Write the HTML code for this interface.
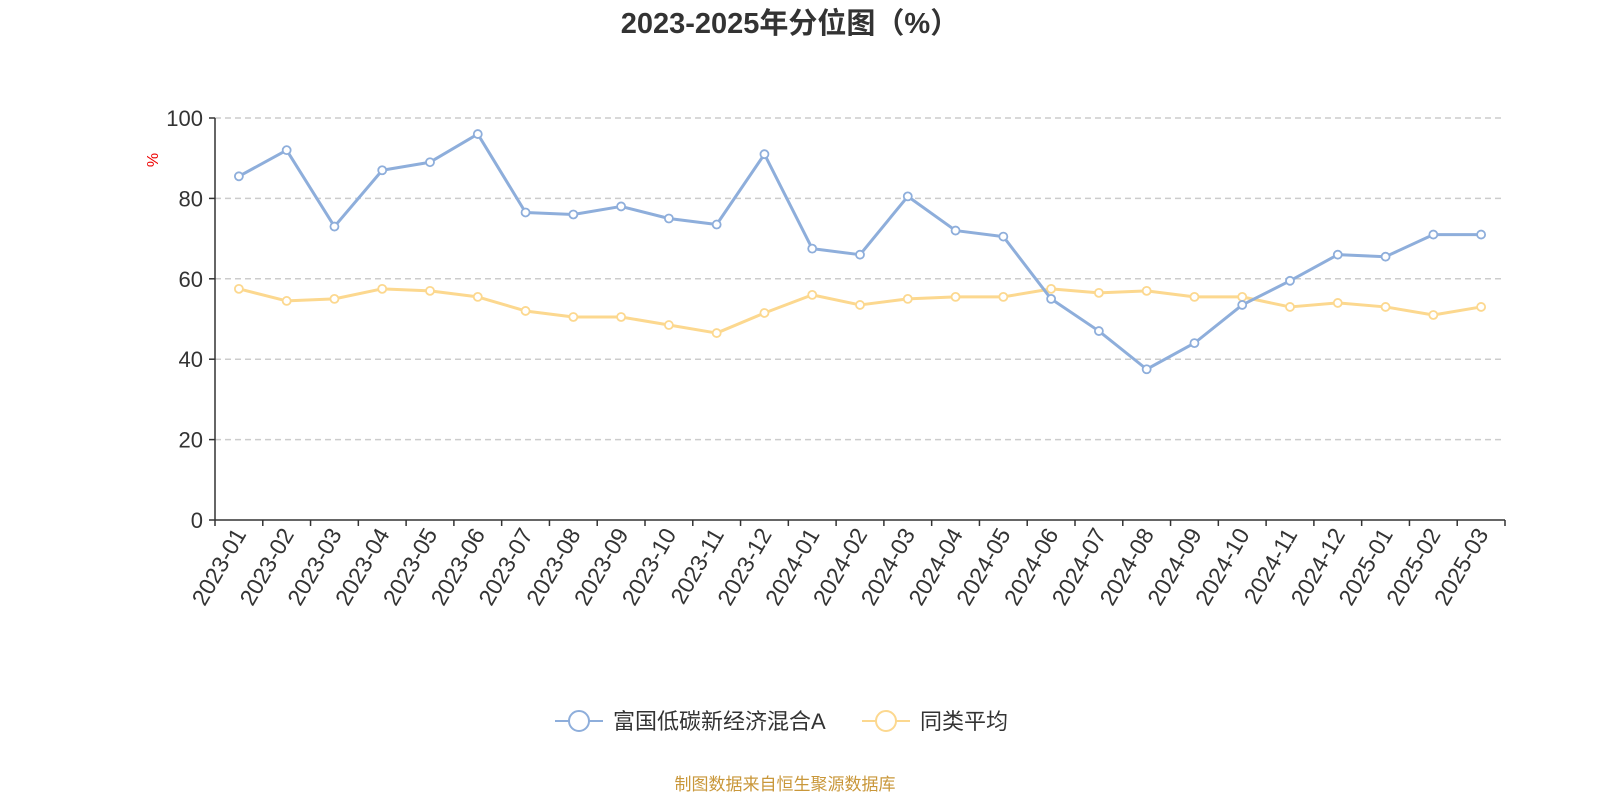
<!DOCTYPE html>
<html><head><meta charset="utf-8"><style>
body{margin:0;background:#fff;width:1600px;height:800px;overflow:hidden;font-family:"Liberation Sans","Noto Sans CJK SC",sans-serif}
</style></head><body>
<svg id="c" width="1600" height="800" xmlns="http://www.w3.org/2000/svg">
<text x="790" y="33" text-anchor="middle" font-size="29" font-weight="bold" fill="#333" font-family="Liberation Sans,Noto Sans CJK SC,sans-serif">2023-2025年分位图（%）</text>
<text x="0" y="0" transform="translate(158,160) rotate(-90)" text-anchor="middle" font-size="16" fill="#e00">%</text>
<g id="grid"></g><g id="axes"></g><g id="series"></g>
<g>
<g>
<line x1="555" y1="721" x2="603" y2="721" stroke="#8eaedb" stroke-width="2"/>
<circle cx="579" cy="721" r="10" fill="#fff" stroke="#8eaedb" stroke-width="2"/>
<text x="613" y="729" font-size="22" fill="#333" font-family="Liberation Sans,Noto Sans CJK SC,sans-serif">富国低碳新经济混合A</text></g>
<g>
<line x1="862" y1="721" x2="910" y2="721" stroke="#fcd88f" stroke-width="2"/>
<circle cx="886" cy="721" r="10" fill="#fff" stroke="#fcd88f" stroke-width="2"/>
<text x="920" y="729" font-size="22" fill="#333" font-family="Liberation Sans,Noto Sans CJK SC,sans-serif">同类平均</text></g>
</g>
<text x="785" y="790" text-anchor="middle" font-size="17" fill="#c9973a" font-family="Liberation Sans,Noto Sans CJK SC,sans-serif">制图数据来自恒生聚源数据库</text>
</svg>
<script>
const categories=["2023-01","2023-02","2023-03","2023-04","2023-05","2023-06","2023-07","2023-08","2023-09","2023-10","2023-11","2023-12","2024-01","2024-02","2024-03","2024-04","2024-05","2024-06","2024-07","2024-08","2024-09","2024-10","2024-11","2024-12","2025-01","2025-02","2025-03"];
const fundValues=[85.5,92,73,87,89,96,76.5,76,78,75,73.5,91,67.5,66,80.5,72,70.5,55,47,37.5,44,53.5,59.5,66,65.5,71,71];
const avgValues=[57.5,54.5,55,57.5,57,55.5,52,50.5,50.5,48.5,46.5,51.5,56,53.5,55,55.5,55.5,57.5,56.5,57,55.5,55.5,53,54,53,51,53];
const yTicks=[0,20,40,60,80,100];
const NS="http://www.w3.org/2000/svg";
const x0=215,x1=1505,y0=520,y1=118;
const bw=(x1-x0)/categories.length;
const xs=i=>x0+bw*(i+0.5);
const ys=v=>y0-(v/100)*(y0-y1);
function mk(t,a,p){const e=document.createElementNS(NS,t);for(const k in a)e.setAttribute(k,a[k]);p.appendChild(e);return e;}
const grid=document.getElementById('grid'),axes=document.getElementById('axes'),ser=document.getElementById('series');
yTicks.forEach(v=>{
 if(v>0){const g=mk('line',{x1:x0,x2:x1,y1:ys(v),y2:ys(v),stroke:'#ccc','stroke-dasharray':'6,4','stroke-width':1.5},grid);
 
 }
 const tk=mk('line',{x1:x0-6,x2:x0,y1:ys(v),y2:ys(v),stroke:'#333','stroke-width':1.5},axes);
 
 
 const t=mk('text',{x:x0-12,y:ys(v)+8,'text-anchor':'end','font-size':22,fill:'#333'},axes);
 t.textContent=v;
 
 
});
const ya=mk('line',{x1:x0,x2:x0,y1:y1,y2:y0,stroke:'#333','stroke-width':1.5},axes);


const xa=mk('line',{x1:x0,x2:x1,y1:y0,y2:y0,stroke:'#333','stroke-width':1.5},axes);


for(let i=0;i<=categories.length;i++){
 const tk=mk('line',{x1:x0+bw*i,x2:x0+bw*i,y1:y0,y2:y0+6,stroke:'#333','stroke-width':1.5},axes);
 
 
}
categories.forEach((c,i)=>{
 const t=mk('text',{transform:`translate(${xs(i)+8},${y0+14}) rotate(-60)`,'text-anchor':'end','font-size':23,fill:'#333'},axes);
 t.textContent=c;
 
 
});
function series(vals,color,name){
 const g=mk('g',{},ser);
 
 
 const p=mk('polyline',{points:vals.map((v,i)=>xs(i)+','+ys(v)).join(' '),fill:'none',stroke:color,'stroke-width':3,'stroke-linejoin':'round'},g);
 
 
 vals.forEach((v,i)=>{
  const c=mk('circle',{cx:xs(i),cy:ys(v),r:4,fill:'#fff',stroke:color,'stroke-width':1.8},g);
  
  
 });
}
series(avgValues,'#fcd88f','average-series');
series(fundValues,'#8eaedb','fund-series');
</script>
</body></html>
